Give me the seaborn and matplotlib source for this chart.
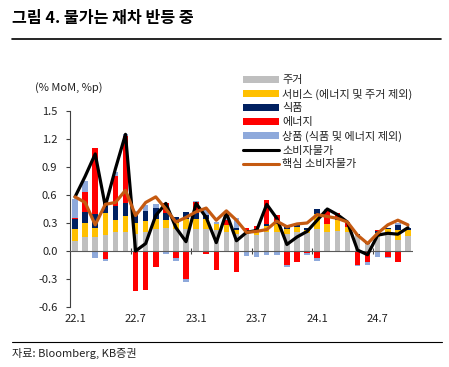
import numpy as np
import matplotlib
matplotlib.use("Agg")
import matplotlib.pyplot as plt
import seaborn as sns
from matplotlib.patches import Patch
from matplotlib.lines import Line2D
from matplotlib.ticker import FuncFormatter

# ---------------- data ----------------
months = ["22.1", "22.2", "22.3", "22.4", "22.5", "22.6", "22.7", "22.8", "22.9", "22.10", "22.11", "22.12",
          "23.1", "23.2", "23.3", "23.4", "23.5", "23.6", "23.7", "23.8", "23.9", "23.10", "23.11", "23.12",
          "24.1", "24.2", "24.3", "24.4", "24.5", "24.6", "24.7", "24.8", "24.9", "24.10"]

housing = [0.11, 0.15, 0.15, 0.17, 0.20, 0.20, 0.18, 0.20, 0.24, 0.25, 0.24, 0.24,
           0.24, 0.24, 0.22, 0.20, 0.18, 0.18, 0.17, 0.20, 0.20, 0.18, 0.20, 0.19,
           0.24, 0.20, 0.21, 0.20, 0.17, 0.08, 0.15, 0.18, 0.12, 0.16]
services = [0.125, 0.15, 0.10, 0.24, 0.13, 0.18, 0.12, 0.12, 0.10, 0.08, 0.06, 0.10,
            0.10, 0.10, 0.07, 0.08, 0.05, 0.03, 0.05, 0.07, 0.09, 0.06, 0.06, 0.04,
            0.16, 0.09, 0.12, 0.06, 0.00, 0.00, 0.04, 0.06, 0.11, 0.07]
food = [0.11, 0.12, 0.15, 0.12, 0.15, 0.13, 0.10, 0.11, 0.12, 0.08, 0.06, 0.08,
        0.07, 0.05, 0.00, 0.00, 0.02, 0.01, 0.02, 0.02, 0.03, 0.03, 0.02, 0.02,
        0.05, 0.00, 0.02, 0.00, 0.01, 0.02, 0.02, 0.01, 0.05, 0.02]
energy = [0.01, 0.21, 0.70, -0.09, 0.32, 0.72, -0.43, -0.42, -0.17, 0.10, -0.07, -0.30,
          0.12, -0.03, -0.20, 0.05, -0.22, 0.03, 0.03, 0.26, 0.07, -0.15, -0.12, -0.02,
          -0.07, 0.15, 0.06, 0.05, -0.15, -0.12, 0.01, -0.06, -0.12, 0.00]
goods = [0.20, 0.12, -0.08, -0.02, 0.05, 0.02, 0.03, 0.06, 0.04, -0.03, -0.04, -0.03,
         0.01, 0.05, 0.02, 0.10, 0.10, -0.05, -0.06, -0.04, -0.04, -0.02, 0.00, -0.02,
         -0.04, 0.01, -0.01, -0.01, -0.01, -0.03, -0.06, -0.02, 0.02, 0.00]
cpi = [0.58, 0.80, 1.04, 0.48, 0.88, 1.25, 0.00, 0.08, 0.38, 0.51, 0.25, 0.10,
       0.51, 0.36, 0.09, 0.41, 0.11, 0.20, 0.22, 0.50, 0.35, 0.07, 0.15, 0.21,
       0.33, 0.45, 0.39, 0.31, 0.01, -0.04, 0.17, 0.19, 0.18, 0.25]
core = [0.58, 0.52, 0.28, 0.50, 0.52, 0.65, 0.38, 0.52, 0.58, 0.45, 0.31, 0.36,
        0.42, 0.46, 0.33, 0.43, 0.33, 0.20, 0.21, 0.23, 0.32, 0.26, 0.29, 0.30,
        0.39, 0.37, 0.35, 0.31, 0.17, 0.08, 0.19, 0.28, 0.33, 0.28]

tick_labels = ["22.1", "22.7", "23.1", "23.7", "24.1", "24.7"]
series_names = ["주거", "서비스 (에너지 및 주거 제외)", "식품", "에너지", "상품 (식품 및 에너지 제외)"]
line_names = ["소비자물가", "핵심 소비자물가"]
title = "그림 4. 물가는 재차 반등 중"
unit_label = "(% MoM, %p)"
source = "자료: Bloomberg, KB증권"

# ---------------- style ----------------
colors = ["#BFBFBF", "#FFC000", "#002060", "#FF0000", "#8EA9DB"]
cpi_color = "#000000"
core_color = "#C55A11"

sns.set_theme(style="white")
plt.rcParams['font.family'] = ['Noto Sans CJK KR', 'DejaVu Sans']
plt.rcParams['text.color'] = '#222222'
plt.rcParams['xtick.color'] = '#222222'
plt.rcParams['ytick.color'] = '#222222'

W, H = 449, 367
fig = plt.figure(figsize=(W / 100, H / 100), dpi=100)
ax = fig.add_axes([70 / W, 1 - 307 / H, (413 - 70) / W, (307 - 111) / H])

vals = np.array([housing, services, food, energy, goods])
pos_cum = np.cumsum(np.clip(vals, 0, None), axis=0)
neg_cum = np.cumsum(np.clip(vals, None, 0), axis=0)

for k in range(len(colors) - 1, -1, -1):
    for cum in (pos_cum, neg_cum):
        sns.barplot(x=months, y=cum[k], order=months, color=colors[k], saturation=1,
                    width=0.55, errorbar=None, linewidth=0, ax=ax, zorder=2)

idx = np.arange(len(months))
sns.lineplot(x=idx, y=cpi, color=cpi_color, linewidth=2.3, ax=ax, zorder=5)
sns.lineplot(x=idx, y=core, color=core_color, linewidth=2.3, ax=ax, zorder=6)

ax.axhline(0, color="#595959", linewidth=0.8, zorder=3)

ax.set_xlim(-0.5, len(months) - 0.5)
ax.set_ylim(-0.6, 1.5)
ax.set_yticks(np.round(np.arange(-0.6, 1.51, 0.3), 1))
ax.yaxis.set_major_formatter(FuncFormatter(lambda v, p: f"{v:.1f}"))
ax.set_xticks([months.index(t) for t in tick_labels])
ax.set_xticklabels(tick_labels)
ax.tick_params(axis='x', length=0, pad=5, labelsize=8)
ax.tick_params(axis='y', length=3, width=0.8, pad=6, labelsize=8, left=True, color="#404040")
ax.set_xlabel("")
ax.set_ylabel("")
for s in ("top", "right", "bottom"):
    ax.spines[s].set_visible(False)
ax.spines["left"].set_color("#404040")
ax.spines["left"].set_linewidth(0.8)

# small category-boundary ticks on the zero line
sec = ax.secondary_xaxis((0 - (-0.6)) / 2.1)
boundaries = [months.index(t) - 0.5 for t in tick_labels[1:]]
sec.set_xticks(boundaries)
sec.set_xticklabels([""] * len(boundaries))
sec.tick_params(direction='inout', length=4, width=0.8, color="#404040")
for s in sec.spines.values():
    s.set_visible(False)

# legend
handles = [Patch(facecolor=c, edgecolor='none') for c in colors] + \
          [Line2D([0], [0], color=cpi_color, lw=2.2), Line2D([0], [0], color=core_color, lw=2.2)]
fig.legend(handles, series_names + line_names, loc='upper left',
           bbox_to_anchor=(243 / W, 1 - 75 / H), frameon=False, fontsize=8,
           handlelength=3.2, handleheight=0.6, handletextpad=0.35,
           labelspacing=0.33, borderpad=0, borderaxespad=0)

# texts and rules
fig.text(12 / W, 1 - 18 / H, title, fontsize=11.6, fontweight='bold', va='center', ha='left', color='black')
fig.add_artist(Line2D([12 / W, 441 / W], [1 - 38.5 / H, 1 - 38.5 / H], color='black', lw=1.2))
fig.text(35 / W, 1 - 88 / H, unit_label, fontsize=8, va='center', ha='left')
fig.add_artist(Line2D([12 / W, 442 / W], [1 - 341.5 / H, 1 - 341.5 / H], color='black', lw=0.8))
fig.text(12 / W, 1 - 353 / H, source, fontsize=8, va='center', ha='left')

fig.savefig("out.png", dpi=100)
